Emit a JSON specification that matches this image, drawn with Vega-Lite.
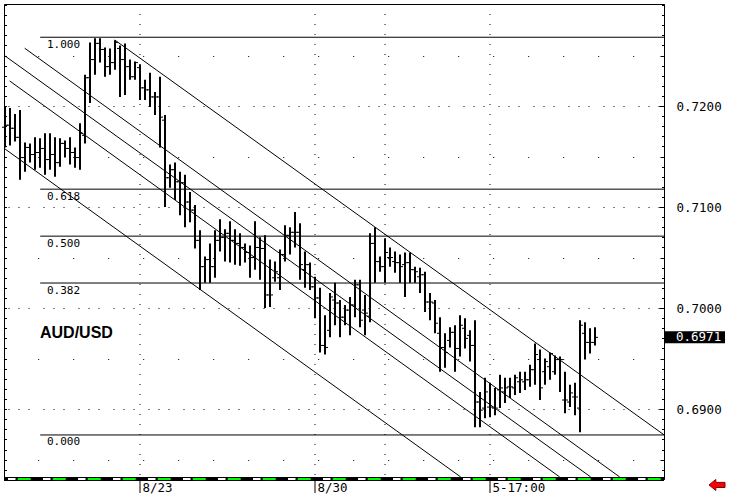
{
 "$schema": "https://vega.github.io/schema/vega-lite/v6.json",
 "width": 660, "height": 475,
 "autosize": {"type": "none"},
 "padding": {"left": 4, "top": 4, "right": 66, "bottom": 21},
 "background": "white",
 "config": {
  "view": {"stroke": "black", "strokeWidth": 1},
  "axis": {"labelFont": "DejaVu Sans Mono", "labelFontSize": 12.5, "labelColor": "#000", "tickColor": "#000", "domainColor": "#000", "gridColor": "#000", "gridOpacity": 1, "title": null}
 },
 "datasets": {
  "bars": [
   {"k":0,"o":0.7179,"h":0.7199,"l":0.7159,"c":0.7181},
   {"k":1,"o":0.7181,"h":0.7198,"l":0.7161,"c":0.7178},
   {"k":2,"o":0.7178,"h":0.7192,"l":0.7165,"c":0.7169},
   {"k":3,"o":0.7169,"h":0.7196,"l":0.7127,"c":0.7149},
   {"k":4,"o":0.7149,"h":0.7164,"l":0.7135,"c":0.7159},
   {"k":5,"o":0.7159,"h":0.7163,"l":0.7144,"c":0.7152},
   {"k":6,"o":0.7152,"h":0.7169,"l":0.7137,"c":0.7154},
   {"k":7,"o":0.7154,"h":0.7168,"l":0.7139,"c":0.7158},
   {"k":8,"o":0.7158,"h":0.7173,"l":0.7132,"c":0.7147},
   {"k":9,"o":0.7147,"h":0.7173,"l":0.7137,"c":0.7152},
   {"k":10,"o":0.7152,"h":0.7169,"l":0.7130,"c":0.7144},
   {"k":11,"o":0.7144,"h":0.7168,"l":0.7140,"c":0.7163},
   {"k":12,"o":0.7163,"h":0.7166,"l":0.7149,"c":0.7158},
   {"k":13,"o":0.7158,"h":0.7169,"l":0.7142,"c":0.7154},
   {"k":14,"o":0.7154,"h":0.7159,"l":0.7139,"c":0.7149},
   {"k":15,"o":0.7149,"h":0.7183,"l":0.7137,"c":0.7173},
   {"k":16,"o":0.7171,"h":0.7231,"l":0.7163,"c":0.7228},
   {"k":17,"o":0.7228,"h":0.7263,"l":0.7203,"c":0.7246},
   {"k":18,"o":0.7246,"h":0.7267,"l":0.7231,"c":0.7262},
   {"k":19,"o":0.7262,"h":0.7267,"l":0.7243,"c":0.7256},
   {"k":20,"o":0.7256,"h":0.7258,"l":0.7229,"c":0.7239},
   {"k":21,"o":0.7239,"h":0.7257,"l":0.7231,"c":0.7243},
   {"k":22,"o":0.7243,"h":0.7265,"l":0.7236,"c":0.7263},
   {"k":23,"o":0.7257,"h":0.7260,"l":0.7209,"c":0.7246},
   {"k":24,"o":0.7246,"h":0.7262,"l":0.7211,"c":0.7239},
   {"k":25,"o":0.7239,"h":0.7246,"l":0.7226,"c":0.7229},
   {"k":26,"o":0.7229,"h":0.7244,"l":0.7226,"c":0.7243},
   {"k":27,"o":0.7238,"h":0.7241,"l":0.7206,"c":0.7218},
   {"k":28,"o":0.7218,"h":0.7226,"l":0.7206,"c":0.7216},
   {"k":29,"o":0.7216,"h":0.7233,"l":0.7199,"c":0.7209},
   {"k":30,"o":0.7209,"h":0.7214,"l":0.7191,"c":0.7209},
   {"k":31,"o":0.7209,"h":0.7229,"l":0.7159,"c":0.7189},
   {"k":32,"o":0.7186,"h":0.7191,"l":0.7100,"c":0.7129},
   {"k":33,"o":0.7129,"h":0.7142,"l":0.7119,"c":0.7137},
   {"k":34,"o":0.7137,"h":0.7144,"l":0.7107,"c":0.7125},
   {"k":35,"o":0.7125,"h":0.7135,"l":0.7092,"c":0.7124},
   {"k":36,"o":0.7124,"h":0.7132,"l":0.7080,"c":0.7105},
   {"k":37,"o":0.7105,"h":0.7115,"l":0.7085,"c":0.7097},
   {"k":38,"o":0.7097,"h":0.7102,"l":0.7059,"c":0.7067},
   {"k":39,"o":0.7067,"h":0.7077,"l":0.7018,"c":0.7041},
   {"k":40,"o":0.7041,"h":0.7051,"l":0.7025,"c":0.7048},
   {"k":41,"o":0.7048,"h":0.7064,"l":0.7025,"c":0.7041},
   {"k":42,"o":0.7041,"h":0.7077,"l":0.7030,"c":0.7067},
   {"k":43,"o":0.7067,"h":0.7088,"l":0.7056,"c":0.7070},
   {"k":44,"o":0.7070,"h":0.7078,"l":0.7046,"c":0.7074},
   {"k":45,"o":0.7074,"h":0.7086,"l":0.7045,"c":0.7067},
   {"k":46,"o":0.7067,"h":0.7078,"l":0.7043,"c":0.7064},
   {"k":47,"o":0.7064,"h":0.7074,"l":0.7042,"c":0.7060},
   {"k":48,"o":0.7060,"h":0.7064,"l":0.7045,"c":0.7055},
   {"k":49,"o":0.7055,"h":0.7062,"l":0.7030,"c":0.7050},
   {"k":50,"o":0.7050,"h":0.7086,"l":0.7038,"c":0.7060},
   {"k":51,"o":0.7060,"h":0.7070,"l":0.7028,"c":0.7059},
   {"k":52,"o":0.7059,"h":0.7072,"l":0.7000,"c":0.7013},
   {"k":53,"o":0.7013,"h":0.7048,"l":0.7001,"c":0.7013},
   {"k":54,"o":0.7030,"h":0.7046,"l":0.7026,"c":0.7036},
   {"k":55,"o":0.7030,"h":0.7058,"l":0.7018,"c":0.7053},
   {"k":56,"o":0.7053,"h":0.7082,"l":0.7046,"c":0.7072},
   {"k":57,"o":0.7072,"h":0.7080,"l":0.7053,"c":0.7075},
   {"k":58,"o":0.7075,"h":0.7095,"l":0.7060,"c":0.7075},
   {"k":59,"o":0.7075,"h":0.7084,"l":0.7028,"c":0.7043},
   {"k":60,"o":0.7038,"h":0.7056,"l":0.7020,"c":0.7043},
   {"k":61,"o":0.7043,"h":0.7045,"l":0.7018,"c":0.7021},
   {"k":62,"o":0.7021,"h":0.7031,"l":0.6990,"c":0.7010},
   {"k":63,"o":0.7010,"h":0.7020,"l":0.6956,"c":0.6963},
   {"k":64,"o":0.6963,"h":0.6993,"l":0.6954,"c":0.6961},
   {"k":65,"o":0.6978,"h":0.7015,"l":0.6971,"c":0.7011},
   {"k":66,"o":0.7008,"h":0.7025,"l":0.6983,"c":0.7005},
   {"k":67,"o":0.7005,"h":0.7008,"l":0.6971,"c":0.6991},
   {"k":68,"o":0.6991,"h":0.7003,"l":0.6983,"c":0.6998},
   {"k":69,"o":0.6998,"h":0.7011,"l":0.6973,"c":0.7003},
   {"k":70,"o":0.7003,"h":0.7028,"l":0.6991,"c":0.7023},
   {"k":71,"o":0.7023,"h":0.7028,"l":0.6981,"c":0.6988},
   {"k":72,"o":0.6998,"h":0.7013,"l":0.6973,"c":0.6995},
   {"k":73,"o":0.6992,"h":0.7074,"l":0.6986,"c":0.7064},
   {"k":74,"o":0.7064,"h":0.7080,"l":0.7025,"c":0.7046},
   {"k":75,"o":0.7046,"h":0.7051,"l":0.7036,"c":0.7041},
   {"k":76,"o":0.7041,"h":0.7069,"l":0.7025,"c":0.7055},
   {"k":77,"o":0.7050,"h":0.7060,"l":0.7041,"c":0.7050},
   {"k":78,"o":0.7046,"h":0.7056,"l":0.7035,"c":0.7045},
   {"k":79,"o":0.7045,"h":0.7053,"l":0.7025,"c":0.7041},
   {"k":80,"o":0.7043,"h":0.7055,"l":0.7011,"c":0.7045},
   {"k":81,"o":0.7045,"h":0.7055,"l":0.7025,"c":0.7038},
   {"k":82,"o":0.7038,"h":0.7041,"l":0.7025,"c":0.7036},
   {"k":83,"o":0.7031,"h":0.7040,"l":0.7015,"c":0.7033},
   {"k":84,"o":0.7033,"h":0.7036,"l":0.6996,"c":0.7006},
   {"k":85,"o":0.7006,"h":0.7015,"l":0.6988,"c":0.7006},
   {"k":86,"o":0.7005,"h":0.7008,"l":0.6975,"c":0.6985},
   {"k":87,"o":0.6975,"h":0.6991,"l":0.6937,"c":0.6961},
   {"k":88,"o":0.6961,"h":0.6975,"l":0.6941,"c":0.6956},
   {"k":89,"o":0.6968,"h":0.6981,"l":0.6961,"c":0.6976},
   {"k":90,"o":0.6976,"h":0.6983,"l":0.6937,"c":0.6960},
   {"k":91,"o":0.6960,"h":0.6993,"l":0.6952,"c":0.6983},
   {"k":92,"o":0.6980,"h":0.6990,"l":0.6960,"c":0.6970},
   {"k":93,"o":0.6973,"h":0.6978,"l":0.6947,"c":0.6963},
   {"k":94,"o":0.6963,"h":0.6988,"l":0.6882,"c":0.6907},
   {"k":95,"o":0.6907,"h":0.6917,"l":0.6882,"c":0.6899},
   {"k":96,"o":0.6901,"h":0.6931,"l":0.6891,"c":0.6917},
   {"k":97,"o":0.6902,"h":0.6926,"l":0.6892,"c":0.6902},
   {"k":98,"o":0.6901,"h":0.6921,"l":0.6894,"c":0.6901},
   {"k":99,"o":0.6919,"h":0.6934,"l":0.6901,"c":0.6921},
   {"k":100,"o":0.6917,"h":0.6931,"l":0.6906,"c":0.6921},
   {"k":101,"o":0.6922,"h":0.6931,"l":0.6911,"c":0.6922},
   {"k":102,"o":0.6921,"h":0.6934,"l":0.6914,"c":0.6931},
   {"k":103,"o":0.6927,"h":0.6937,"l":0.6916,"c":0.6929},
   {"k":104,"o":0.6927,"h":0.6937,"l":0.6919,"c":0.6929},
   {"k":105,"o":0.6929,"h":0.6944,"l":0.6922,"c":0.6939},
   {"k":106,"o":0.6939,"h":0.6965,"l":0.6924,"c":0.6954},
   {"k":107,"o":0.6949,"h":0.6959,"l":0.6909,"c":0.6921},
   {"k":108,"o":0.6937,"h":0.6950,"l":0.6924,"c":0.6947},
   {"k":109,"o":0.6942,"h":0.6956,"l":0.6929,"c":0.6955},
   {"k":110,"o":0.6937,"h":0.6953,"l":0.6934,"c":0.6949},
   {"k":111,"o":0.6949,"h":0.6952,"l":0.6917,"c":0.6949},
   {"k":112,"o":0.6909,"h":0.6937,"l":0.6896,"c":0.6909},
   {"k":113,"o":0.6907,"h":0.6924,"l":0.6902,"c":0.6916},
   {"k":114,"o":0.6912,"h":0.6926,"l":0.6894,"c":0.6912},
   {"k":115,"o":0.6901,"h":0.6988,"l":0.6877,"c":0.6983},
   {"k":116,"o":0.6975,"h":0.6986,"l":0.6949,"c":0.6966},
   {"k":117,"o":0.6966,"h":0.6980,"l":0.6955,"c":0.6966},
   {"k":118,"o":0.6966,"h":0.6981,"l":0.6963,"c":0.6971}
  ],
  "fib": [
   {"r":"1.000","p":0.72681},
   {"r":"0.618","p":0.71177},
   {"r":"0.500","p":0.70712},
   {"r":"0.382","p":0.70248},
   {"r":"0.000","p":0.68744}
  ],
  "chan": [
   {"line":"A","k":21.94,"p":0.72654},{"line":"A","k":131.8,"p":0.68745},
   {"line":"B","k":3.94,"p":0.72572},{"line":"B","k":122.94,"p":0.68328},
   {"line":"C","k":0,"p":0.72496},{"line":"C","k":117.14,"p":0.68328},
   {"line":"D","k":0.94,"p":0.72248},{"line":"D","k":110.94,"p":0.68328},
   {"line":"E","k":0,"p":0.71575},{"line":"E","k":91.14,"p":0.68328}
  ],
  "dates": [
   {"k":27,"label":"8/23"},
   {"k":62,"label":"8/30"},
   {"k":76,"label":""},
   {"k":97,"label":"5-17:00"}
  ],
  "info": [{"pair":"AUD/USD","last":0.6971}]
 },
 "resolve": {"axis": {"y": "independent"}},
 "layer": [
  {
   "data": {"name": "dates"},
   "mark": {"type": "rule", "color": "black", "strokeWidth": 1, "strokeDash": [1,9]},
   "encoding": {
    "x": {"field": "k", "type": "quantitative", "scale": {"domain": [-0.2, 131.8], "nice": false, "zero": false}, "axis": null}
   }
  },
  {
   "data": {"name": "fib"},
   "mark": {"type": "rule", "color": "black", "strokeWidth": 1},
   "encoding": {
    "x": {"datum": 7.04, "scale": {"domain": [-0.2, 131.8], "nice": false, "zero": false}, "axis": null},
    "x2": {"datum": 131.8},
    "y": {"field": "p", "type": "quantitative", "scale": {"domain": [0.68308, 0.7301], "nice": false, "zero": false},
          "axis": {"orient": "left", "values": [0.684,0.685,0.686,0.687,0.688,0.689,0.69,0.691,0.692,0.693,0.694,0.695,0.696,0.697,0.698,0.699,0.7,0.701,0.702,0.703,0.704,0.705,0.706,0.707,0.708,0.709,0.71,0.711,0.712,0.713,0.714,0.715,0.716,0.717,0.718,0.719,0.72,0.721,0.722,0.723,0.724,0.725,0.726,0.727,0.728,0.729,0.73],
                   "tickSize": -2.5, "labels": false, "grid": false, "domain": true, "title": null}}
   }
  },
  {
   "data": {"name": "fib"},
   "mark": {"type": "text", "font": "DejaVu Sans Mono", "fontSize": 11, "align": "left", "baseline": "top", "dy": 1.5, "color": "black"},
   "encoding": {
    "x": {"datum": 8.4, "scale": {"domain": [-0.2, 131.8], "nice": false, "zero": false}, "axis": null},
    "y": {"field": "p", "type": "quantitative", "scale": {"domain": [0.68308, 0.7301], "nice": false, "zero": false}, "axis": null},
    "text": {"field": "r"}
   }
  },
  {
   "data": {"name": "chan"},
   "mark": {"type": "line", "color": "black", "strokeWidth": 1, "clip": true},
   "encoding": {
    "x": {"field": "k", "type": "quantitative", "scale": {"domain": [-0.2, 131.8], "nice": false, "zero": false}, "axis": null},
    "y": {"field": "p", "type": "quantitative", "scale": {"domain": [0.68308, 0.7301], "nice": false, "zero": false},
          "axis": {"orient": "right", "values": [0.685,0.695,0.705,0.715,0.725], "tickSize": -4, "labels": false, "domain": false,
                   "grid": true, "gridDash": [1,34], "gridDashOffset": 4.7, "gridWidth": 1, "title": null}},
    "detail": {"field": "line"}
   }
  },
  {
   "data": {"name": "bars"},
   "mark": {"type": "rule", "color": "black", "strokeWidth": 2},
   "encoding": {
    "x": {"field": "k", "type": "quantitative", "scale": {"domain": [-0.2, 131.8], "nice": false, "zero": false}, "axis": null},
    "y": {"field": "l", "type": "quantitative", "scale": {"domain": [0.68308, 0.7301], "nice": false, "zero": false},
          "axis": {"orient": "right", "values": [0.69,0.7,0.71,0.72], "format": ".4f", "tickSize": -5,
                   "labelAlign": "left", "labelBaseline": "middle", "labelPadding": 17, "labelFlush": false, "labelOverlap": false,
                   "domain": true, "grid": true, "gridDash": [1,9,1,9,1,14], "gridDashOffset": 30, "gridWidth": 1, "title": null}},
    "y2": {"field": "h"}
   }
  },
  {
   "data": {"name": "bars"},
   "mark": {"type": "rule", "color": "black", "strokeWidth": 1, "xOffset": -3, "x2Offset": -1},
   "encoding": {
    "x": {"field": "k", "type": "quantitative", "scale": {"domain": [-0.2, 131.8], "nice": false, "zero": false}, "axis": null},
    "x2": {"field": "k"},
    "y": {"field": "o", "type": "quantitative", "scale": {"domain": [0.68308, 0.7301], "nice": false, "zero": false},
          "axis": {"orient": "right", "values": [0.684,0.685,0.686,0.687,0.688,0.689,0.69,0.691,0.692,0.693,0.694,0.695,0.696,0.697,0.698,0.699,0.7,0.701,0.702,0.703,0.704,0.705,0.706,0.707,0.708,0.709,0.71,0.711,0.712,0.713,0.714,0.715,0.716,0.717,0.718,0.719,0.72,0.721,0.722,0.723,0.724,0.725,0.726,0.727,0.728,0.729,0.73],
                   "tickSize": -2.5, "labels": false, "grid": false, "domain": false, "title": null}}
   }
  },
  {
   "data": {"name": "bars"},
   "mark": {"type": "rule", "color": "black", "strokeWidth": 1, "xOffset": 1, "x2Offset": 3},
   "encoding": {
    "x": {"field": "k", "type": "quantitative", "scale": {"domain": [-0.2, 131.8], "nice": false, "zero": false}, "axis": null},
    "x2": {"field": "k"},
    "y": {"field": "c", "type": "quantitative", "scale": {"domain": [0.68308, 0.7301], "nice": false, "zero": false}, "axis": null}
   }
  },
  {
   "data": {"name": "info"},
   "mark": {"type": "rule", "color": "black", "strokeWidth": 4},
   "encoding": {
    "x": {"datum": -0.2, "scale": {"domain": [-0.2, 131.8], "nice": false, "zero": false}, "axis": null},
    "x2": {"datum": 131.8},
    "y": {"datum": 0.68308, "scale": {"domain": [0.68308, 0.7301], "nice": false, "zero": false}, "axis": null}
   }
  },
  {
   "data": {"name": "info"},
   "mark": {"type": "rule", "color": "#00ff00", "strokeWidth": 2, "strokeDash": [13,22], "strokeDashOffset": 21.3},
   "encoding": {
    "x": {"datum": -0.2, "scale": {"domain": [-0.2, 131.8], "nice": false, "zero": false}, "axis": null},
    "x2": {"datum": 131.8},
    "y": {"datum": 0.68308, "scale": {"domain": [0.68308, 0.7301], "nice": false, "zero": false}, "axis": null}
   }
  },
  {
   "data": {"name": "info"},
   "mark": {"type": "rule", "color": "white", "strokeWidth": 2, "strokeDash": [7.5,27.5], "strokeDashOffset": 31},
   "encoding": {
    "x": {"datum": -0.2, "scale": {"domain": [-0.2, 131.8], "nice": false, "zero": false}, "axis": null},
    "x2": {"datum": 131.8},
    "y": {"datum": 0.68308, "scale": {"domain": [0.68308, 0.7301], "nice": false, "zero": false}, "axis": null}
   }
  },
  {
   "data": {"name": "dates"},
   "transform": [{"filter": "datum.label != ''"}],
   "mark": {"type": "rule", "color": "black", "strokeWidth": 1, "yOffset": 2, "y2Offset": 14},
   "encoding": {
    "x": {"field": "k", "type": "quantitative", "scale": {"domain": [-0.2, 131.8], "nice": false, "zero": false}, "axis": null},
    "y": {"datum": 0.68308, "scale": {"domain": [0.68308, 0.7301], "nice": false, "zero": false}, "axis": null},
    "y2": {"datum": 0.68308}
   }
  },
  {
   "data": {"name": "dates"},
   "transform": [{"filter": "datum.label != ''"}],
   "mark": {"type": "text", "color": "black", "font": "DejaVu Sans Mono", "fontSize": 12.5, "align": "left", "baseline": "alphabetic", "dx": 2.5, "dy": 12.5},
   "encoding": {
    "x": {"field": "k", "type": "quantitative", "scale": {"domain": [-0.2, 131.8], "nice": false, "zero": false}, "axis": null},
    "y": {"datum": 0.68308, "scale": {"domain": [0.68308, 0.7301], "nice": false, "zero": false}, "axis": null},
    "text": {"field": "label"}
   }
  },
  {
   "data": {"name": "info"},
   "mark": {"type": "rect", "color": "black", "xOffset": 1, "x2Offset": 61, "yOffset": -6, "y2Offset": 6},
   "encoding": {
    "x": {"datum": 131.8, "scale": {"domain": [-0.2, 131.8], "nice": false, "zero": false}, "axis": null},
    "x2": {"datum": 131.8},
    "y": {"field": "last", "type": "quantitative", "scale": {"domain": [0.68308, 0.7301], "nice": false, "zero": false}, "axis": null},
    "y2": {"field": "last"}
   }
  },
  {
   "data": {"name": "info"},
   "mark": {"type": "text", "color": "white", "font": "DejaVu Sans Mono", "fontSize": 12.5, "align": "left", "baseline": "middle", "dx": 12},
   "encoding": {
    "x": {"datum": 131.8, "scale": {"domain": [-0.2, 131.8], "nice": false, "zero": false}, "axis": null},
    "y": {"field": "last", "type": "quantitative", "scale": {"domain": [0.68308, 0.7301], "nice": false, "zero": false}, "axis": null},
    "text": {"field": "last", "format": ".4f"}
   }
  },
  {
   "data": {"name": "info"},
   "mark": {"type": "text", "color": "black", "font": "Liberation Sans", "fontSize": 16, "fontWeight": "bold", "align": "left", "baseline": "alphabetic"},
   "encoding": {
    "x": {"datum": 7.0, "scale": {"domain": [-0.2, 131.8], "nice": false, "zero": false}, "axis": null},
    "y": {"datum": 0.6970, "scale": {"domain": [0.68308, 0.7301], "nice": false, "zero": false}, "axis": null},
    "text": {"field": "pair"}
   }
  },
  {
   "data": {"name": "info"},
   "mark": {"type": "point", "shape": "M -1 0 L -0.15 -0.69 L -0.15 -0.32 L 1 -0.32 L 1 0.32 L -0.15 0.32 L -0.15 0.69 Z", "size": 256, "filled": true, "color": "#ff0000", "stroke": "#800000", "strokeWidth": 1, "opacity": 1},
   "encoding": {
    "x": {"datum": 142.4, "scale": {"domain": [-0.2, 131.8], "nice": false, "zero": false}, "axis": null},
    "y": {"datum": 0.68249, "scale": {"domain": [0.68308, 0.7301], "nice": false, "zero": false}, "axis": null}
   }
  }
 ]
}
